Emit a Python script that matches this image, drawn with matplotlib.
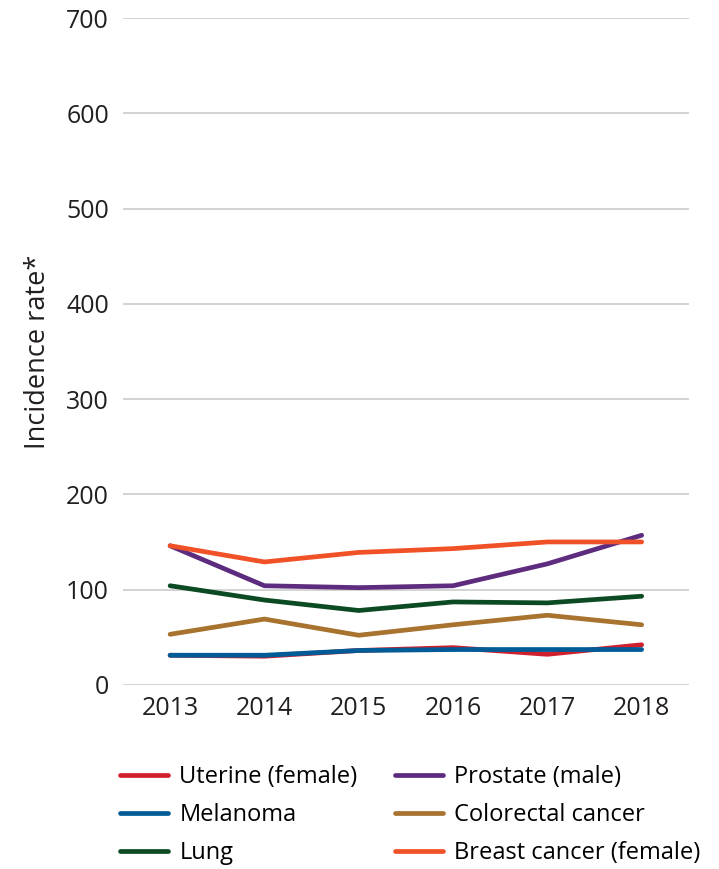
import numpy as np
import matplotlib.pyplot as plt

plt.rcParams['font.family'] = ['Open Sans', 'DejaVu Sans']

years = ['2013', '2014', '2015', '2016', '2017', '2018']

uterine = [31, 30, 36, 39, 32, 42]
melanoma = [31, 31, 36, 37, 37, 37]
lung = [104, 89, 78, 87, 86, 93]
prostate = [146, 104, 102, 104, 127, 157]
colorectal = [53, 69, 52, 63, 73, 63]
breast = [146, 129, 139, 143, 150, 150]

series = [
    ("Uterine (female)", uterine, "#d0202e"),
    ("Melanoma", melanoma, "#005b97"),
    ("Lung", lung, "#0c4a24"),
    ("Prostate (male)", prostate, "#5e2c7e"),
    ("Colorectal cancer", colorectal, "#a8722f"),
    ("Breast cancer (female)", breast, "#f05127"),
]

fig = plt.figure(figsize=(7.19, 8.69), dpi=100)
ax = fig.add_axes([0.171, 0.212, 0.787, 0.767])

x = np.arange(len(years))
handles = []
for name, vals, col in series:
    h, = ax.plot(x, vals, color=col, lw=3.4, solid_capstyle='round', label=name)
    handles.append(h)

ax.set_xlim(-0.5, len(years) - 0.5)
ax.set_ylim(0, 700)
ax.set_yticks(np.arange(0, 701, 100))
ax.set_xticks(x)
ax.set_xticklabels(years)
ax.yaxis.grid(True, color='#cccccc', lw=1.2)
ax.set_axisbelow(True)
for s in ax.spines.values():
    s.set_visible(False)
ax.tick_params(axis='both', length=0, labelsize=18, colors='#231f20')
ax.tick_params(axis='y', pad=10)
ax.tick_params(axis='x', pad=8)
ax.set_ylabel('Incidence rate*', fontsize=19.5, color='#231f20', labelpad=10)

fig.legend(handles=handles, loc='lower left', bbox_to_anchor=(0.138, -0.02),
           ncol=2, frameon=False, fontsize=17, handlelength=2.0,
           handletextpad=0.5, columnspacing=1.6, labelspacing=0.6)

plt.savefig('out.png', dpi=100)
